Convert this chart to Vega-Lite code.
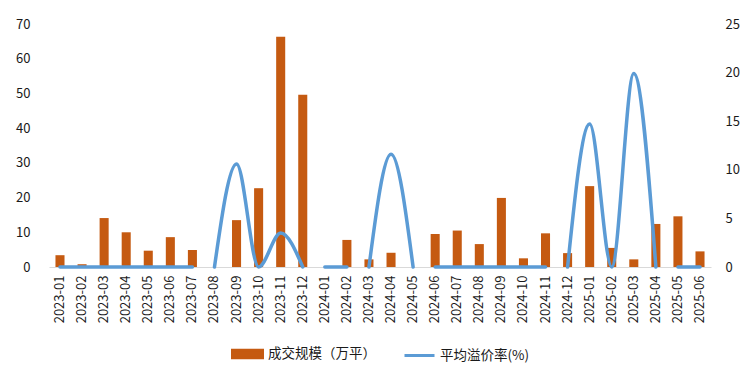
{
  "$schema": "https://vega.github.io/schema/vega-lite/v6.json",
  "autosize": {"type": "none"},
  "width": 662,
  "height": 243,
  "padding": {"left": 49, "top": 24, "right": 39, "bottom": 105},
  "background": "white",
  "config": {
    "view": {"stroke": null},
    "font": "Noto Sans CJK SC",
    "axis": {"labelFont": "Noto Sans CJK SC", "labelColor": "#1a1a1a", "grid": false, "ticks": false, "domain": false, "title": null, "labelFontSize": 13},
    "legend": {"labelFont": "Noto Sans CJK SC", "labelColor": "#1a1a1a", "layout": {"bottom": {"anchor": "middle"}}}
  },
  "data": {
    "values": [
      {"month": "2023-01", "volume": 3.4, "premium": 0, "seg": 1},
      {"month": "2023-02", "volume": 0.8, "premium": 0, "seg": 1},
      {"month": "2023-03", "volume": 14.1, "premium": 0, "seg": 1},
      {"month": "2023-04", "volume": 10.0, "premium": 0, "seg": 1},
      {"month": "2023-05", "volume": 4.7, "premium": 0, "seg": 1},
      {"month": "2023-06", "volume": 8.6, "premium": 0, "seg": 1},
      {"month": "2023-07", "volume": 4.9, "premium": 0, "seg": 1},
      {"month": "2023-08", "volume": null, "premium": 0, "seg": 2},
      {"month": "2023-09", "volume": 13.5, "premium": 10.6, "seg": 2},
      {"month": "2023-10", "volume": 22.7, "premium": 0, "seg": 2},
      {"month": "2023-11", "volume": 66.3, "premium": 3.5, "seg": 2},
      {"month": "2023-12", "volume": 49.6, "premium": 0, "seg": 2},
      {"month": "2024-01", "volume": null, "premium": 0, "seg": 3},
      {"month": "2024-02", "volume": 7.8, "premium": 0, "seg": 3},
      {"month": "2024-03", "volume": 2.2, "premium": 0, "seg": 4},
      {"month": "2024-04", "volume": 4.1, "premium": 11.6, "seg": 4},
      {"month": "2024-05", "volume": null, "premium": 0, "seg": 4},
      {"month": "2024-06", "volume": 9.5, "premium": 0, "seg": 5},
      {"month": "2024-07", "volume": 10.5, "premium": 0, "seg": 5},
      {"month": "2024-08", "volume": 6.6, "premium": 0, "seg": 5},
      {"month": "2024-09", "volume": 19.9, "premium": 0, "seg": 5},
      {"month": "2024-10", "volume": 2.5, "premium": 0, "seg": 5},
      {"month": "2024-11", "volume": 9.7, "premium": 0, "seg": 5},
      {"month": "2024-12", "volume": 4.0, "premium": 0, "seg": 6},
      {"month": "2025-01", "volume": 23.3, "premium": 14.7, "seg": 6},
      {"month": "2025-02", "volume": 5.5, "premium": 0, "seg": 6},
      {"month": "2025-03", "volume": 2.2, "premium": 19.9, "seg": 6},
      {"month": "2025-04", "volume": 12.4, "premium": 0, "seg": 6},
      {"month": "2025-05", "volume": 14.6, "premium": 0, "seg": 7},
      {"month": "2025-06", "volume": 4.5, "premium": 0, "seg": 7}
    ]
  },
  "layer": [
    {
      "mark": {"type": "bar", "color": "#C55A11"},
      "encoding": {
        "x": {
          "field": "month", "type": "ordinal",
          "scale": {"paddingInner": 0.59, "paddingOuter": 0.293},
          "axis": {"labelAngle": -90, "labelAlign": "right", "labelBaseline": "middle", "labelPadding": 8, "domain": true, "domainColor": "#D9D9D9", "domainWidth": 1}
        },
        "y": {
          "field": "volume", "type": "quantitative",
          "scale": {"domain": [0, 70], "nice": false},
          "axis": {"orient": "left", "values": [0, 10, 20, 30, 40, 50, 60, 70], "labelPadding": 19}
        },
        "color": {
          "datum": "成交规模（万平）",
          "scale": {"domain": ["成交规模（万平）", "平均溢价率(%)"], "range": ["#C55A11", "#5B9BD5"]},
          "legend": {
            "orient": "bottom", "direction": "horizontal", "title": null,
            "symbolSize": 900, "labelFontSize": 13.5, "columnPadding": 22, "labelOffset": 4, "offset": 14,
            "encode": {
              "symbols": {
                "update": {
                  "shape": {"signal": "datum.value == '平均溢价率(%)' ? 'M-1,0H1' : 'M-1,-0.25H1V0.25H-1Z'"},
                  "fill": {"signal": "datum.value == '平均溢价率(%)' ? 'transparent' : '#C55A11'"},
                  "stroke": {"signal": "datum.value == '平均溢价率(%)' ? '#5B9BD5' : 'transparent'"},
                  "strokeWidth": {"value": 3}
                }
              }
            }
          }
        }
      }
    },
    {
      "mark": {"type": "line", "interpolate": "monotone", "strokeWidth": 3.5, "strokeCap": "round", "strokeJoin": "round"},
      "encoding": {
        "x": {"field": "month", "type": "ordinal"},
        "y": {
          "field": "premium", "type": "quantitative",
          "scale": {"domain": [0, 25], "nice": false},
          "axis": {"orient": "right", "values": [0, 5, 10, 15, 20, 25], "labelPadding": 14}
        },
        "detail": {"field": "seg"},
        "color": {"datum": "平均溢价率(%)"}
      }
    }
  ],
  "resolve": {"scale": {"y": "independent"}}
}
